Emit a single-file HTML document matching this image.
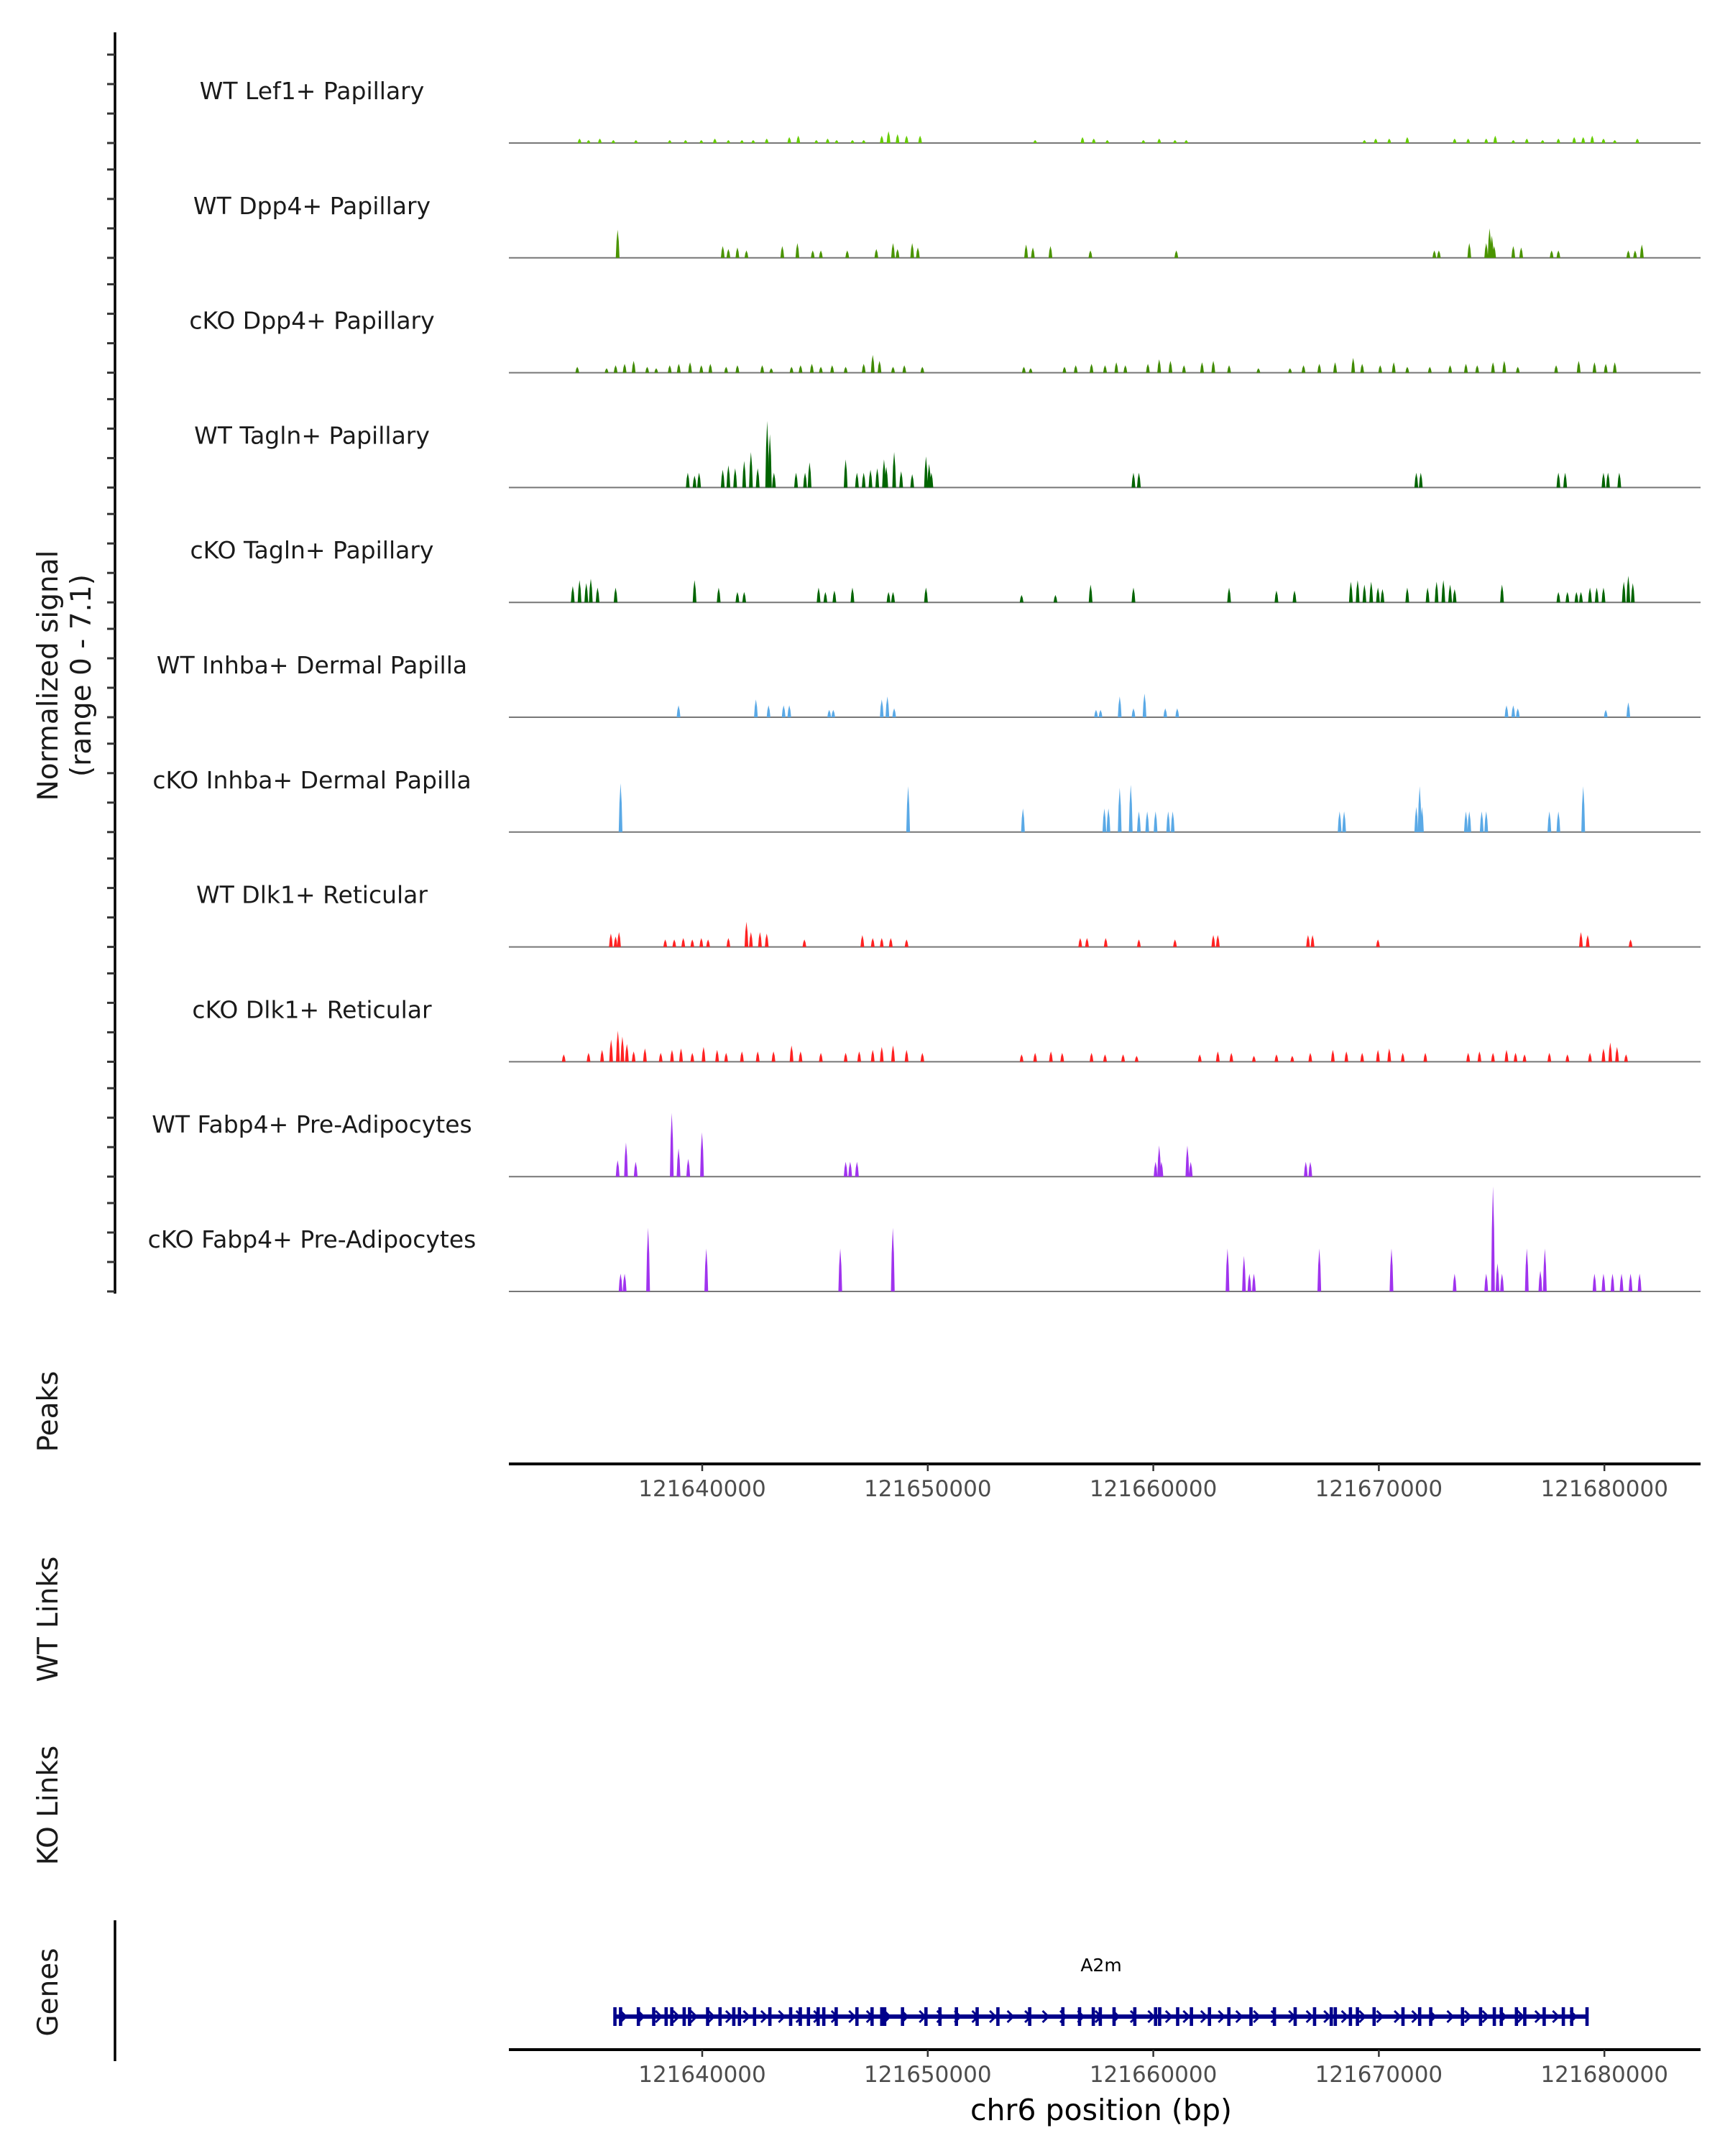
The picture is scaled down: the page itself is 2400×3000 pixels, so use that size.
<!DOCTYPE html>
<html><head><meta charset="utf-8">
<style>
html,body{margin:0;padding:0;background:#fff;}
svg{display:block;font-family:"DejaVu Sans","Liberation Sans",sans-serif;}
</style></head>
<body>
<svg id="chart" width="2400" height="3000" viewBox="0 0 2400 3000" xmlns="http://www.w3.org/2000/svg">
</svg>
<script>
const regionStart = 121628960; // positions below are kb offsets from regionStart
const trackNames = ["WT Lef1+ Papillary","WT Dpp4+ Papillary","cKO Dpp4+ Papillary","WT Tagln+ Papillary","cKO Tagln+ Papillary","WT Inhba+ Dermal Papilla","cKO Inhba+ Dermal Papilla","WT Dlk1+ Reticular","cKO Dlk1+ Reticular","WT Fabp4+ Pre-Adipocytes","cKO Fabp4+ Pre-Adipocytes"];
const trackColors = ["#66cc00","#4a9400","#3f8a00","#006400","#006400","#5aa9e6","#5aa9e6","#ff2222","#ff2222","#a033ee","#a033ee"];
const xTicks = [121640000,121650000,121660000,121670000,121680000];
const xTickLabels = ["121640000","121650000","121660000","121670000","121680000"];
const geneName = "A2m";
const geneStartKb = 7.17, geneEndKb = 50.27;
const geneExons = [7.17,7.42,8.21,8.89,9.44,9.69,10.24,10.48,11.28,11.83,12.44,12.69,13.36,14.04,14.96,15.39,15.75,16.18,16.43,16.98,17.90,18.57,19.0,19.13,19.92,20.96,21.58,22.31,23.23,24.15,25.56,27.03,27.77,28.38,28.69,29.30,30.22,31.14,31.32,32.12,32.73,33.53,34.39,35.37,36.41,37.33,38.19,38.93,39.11,39.78,40.09,40.83,42.11,42.85,43.34,44.75,45.55,46.16,46.47,47.14,47.51,48.37,49.22,49.59,50.27];

const lef1WT = [[5.6,.3],[6.0,.2],[6.5,.3],[7.1,.2],[8.1,.2],[9.6,.2],[10.3,.2],[11.0,.2],[11.6,.3],[12.2,.2],[12.8,.2],[13.3,.2],[13.9,.3],[14.9,.4],[15.3,.5],[16.1,.2],[16.6,.3],[17.0,.2],[17.7,.2],[18.2,.2],[19.0,.5],[19.3,.8],[19.7,.6],[20.1,.5],[20.7,.5],[25.8,.2],[27.9,.4],[28.4,.3],[29.0,.2],[30.6,.2],[31.3,.3],[32.0,.2],[32.5,.2],[40.4,.2],[40.9,.3],[41.5,.3],[42.3,.4],[44.4,.3],[45.0,.3],[45.8,.3],[46.2,.5],[47.0,.2],[47.6,.3],[48.3,.2],[49.0,.3],[49.7,.4],[50.1,.4],[50.5,.5],[51.0,.3],[51.5,.2],[52.5,.3]];
const dpp4WT = [[7.29,1.9],[11.95,.8],[12.2,.6],[12.6,.7],[13.0,.5],[14.59,.8],[15.26,1.0],[15.94,.5],[16.3,.5],[17.47,.5],[18.76,.6],[19.5,1.0],[19.7,.6],[20.35,1.0],[20.6,.7],[25.4,.9],[25.7,.7],[26.48,.8],[28.25,.5],[32.06,.5],[43.5,.5],[43.7,.5],[45.05,1.0],[45.8,1.0],[45.95,2.0],[46.05,1.5],[46.15,.8],[47.0,.8],[47.35,.7],[48.7,.5],[49.0,.5],[52.1,.5],[52.4,.5],[52.7,.9]];
const dpp4KO = [[5.5,.4],[6.8,.3],[7.2,.5],[7.6,.6],[8.0,.8],[8.6,.4],[9.0,.3],[9.6,.5],[10.0,.6],[10.5,.7],[11.0,.5],[11.4,.6],[12.1,.4],[12.6,.5],[13.7,.5],[14.1,.3],[15.0,.4],[15.4,.5],[15.9,.6],[16.3,.4],[16.8,.5],[17.4,.4],[18.2,.6],[18.6,1.2],[18.9,.8],[19.5,.4],[20.0,.5],[20.8,.4],[25.3,.4],[25.6,.3],[27.1,.4],[27.6,.5],[28.3,.6],[28.9,.5],[29.4,.7],[29.8,.5],[30.8,.6],[31.3,.9],[31.8,.8],[32.4,.5],[33.2,.7],[33.7,.8],[34.4,.5],[35.7,.3],[37.1,.3],[37.7,.5],[38.4,.6],[39.1,.7],[39.9,1.0],[40.3,.6],[41.1,.5],[41.7,.7],[42.3,.4],[43.3,.4],[44.2,.5],[44.9,.6],[45.4,.5],[46.1,.7],[46.6,.8],[47.2,.4],[48.9,.5],[49.9,.8],[50.6,.7],[51.1,.6],[51.5,.7]];
const taglnWT = [[10.4,1.0],[10.7,.8],[10.9,1.0],[11.95,1.2],[12.2,1.5],[12.5,1.3],[12.9,1.8],[13.2,2.4],[13.5,1.3],[13.92,4.5],[14.04,3.6],[14.22,1.0],[15.2,1.0],[15.6,1.0],[15.8,1.7],[17.4,1.9],[17.9,1.0],[18.2,1.0],[18.5,1.2],[18.8,1.3],[19.1,1.9],[19.2,1.4],[19.55,2.4],[19.86,1.1],[20.35,.9],[20.96,2.1],[21.1,1.6],[21.2,1.0],[30.16,1.0],[30.4,1.0],[42.7,1.0],[42.9,1.0],[49.0,1.0],[49.3,1.0],[51.0,1.0],[51.2,1.0],[51.7,1.0]];
const taglnKO = [[5.3,1.1],[5.6,1.5],[5.9,1.3],[6.1,1.6],[6.4,1.0],[7.2,1.0],[10.7,1.5],[11.77,1.0],[12.6,.7],[12.9,.7],[16.2,1.0],[16.5,.7],[16.9,.8],[17.7,1.0],[19.3,.7],[19.5,.7],[20.96,1.0],[25.2,.5],[26.7,.5],[28.26,1.2],[30.16,1.0],[34.4,1.0],[36.5,.8],[37.3,.8],[39.8,1.4],[40.1,1.5],[40.4,1.2],[40.7,1.4],[41.0,1.0],[41.2,.9],[42.3,1.0],[43.2,1.0],[43.6,1.4],[43.9,1.5],[44.2,1.2],[44.4,.9],[46.5,1.2],[49.0,.7],[49.4,.7],[49.8,.7],[50.0,.7],[50.4,1.0],[50.7,1.0],[51.0,1.0],[51.9,1.4],[52.1,1.8],[52.3,1.3]];
const inhbaWT = [[9.99,.8],[13.42,1.2],[13.98,.8],[14.65,.8],[14.9,.8],[16.67,.5],[16.85,.5],[19.0,1.2],[19.25,1.4],[19.55,.6],[28.5,.5],[28.7,.5],[29.55,1.4],[30.16,.6],[30.65,1.6],[31.57,.6],[32.1,.6],[46.7,.8],[47.0,.8],[47.2,.6],[51.1,.5],[52.1,1.0]];
const inhbaKO = [[7.42,3.3],[20.17,3.1],[25.26,1.6],[28.87,1.6],[29.05,1.6],[29.55,3.0],[30.04,3.2],[30.4,1.4],[30.77,1.4],[31.14,1.4],[31.7,1.4],[31.9,1.4],[39.3,1.4],[39.5,1.4],[42.7,1.7],[42.85,3.1],[42.95,1.7],[44.9,1.4],[45.05,1.4],[45.6,1.4],[45.8,1.4],[48.6,1.4],[49.0,1.4],[50.1,3.1]];
const dlk1WT = [[6.99,.9],[7.2,.7],[7.35,1.0],[9.4,.5],[9.8,.5],[10.2,.6],[10.6,.5],[11.0,.6],[11.3,.5],[12.2,.6],[13.0,1.7],[13.2,1.0],[13.6,1.0],[13.9,.9],[15.57,.5],[18.14,.8],[18.6,.6],[19.0,.6],[19.4,.6],[20.1,.5],[27.8,.6],[28.1,.6],[28.93,.6],[30.4,.5],[32.0,.5],[33.7,.8],[33.9,.8],[37.9,.8],[38.1,.8],[41.0,.5],[50.0,1.0],[50.3,.8],[52.2,.5]];
const dlk1KO = [[4.9,.5],[6.0,.6],[6.6,.8],[7.0,1.5],[7.3,2.1],[7.5,1.7],[7.7,1.2],[8.0,.7],[8.5,.9],[9.2,.6],[9.7,.8],[10.1,.9],[10.6,.6],[11.1,1.0],[11.7,.8],[12.1,.6],[12.8,.7],[13.5,.7],[14.2,.7],[15.0,1.1],[15.4,.7],[16.3,.6],[17.4,.6],[18.0,.7],[18.6,.8],[19.0,1.0],[19.5,1.1],[20.1,.8],[20.8,.6],[25.2,.5],[25.8,.6],[26.5,.7],[27.0,.6],[28.3,.6],[28.9,.5],[29.7,.5],[30.3,.4],[33.1,.5],[33.9,.7],[34.5,.6],[35.5,.4],[36.5,.5],[37.2,.4],[38.0,.6],[39.0,.8],[39.6,.7],[40.3,.6],[41.0,.8],[41.5,.9],[42.1,.6],[43.1,.6],[45.0,.6],[45.5,.7],[46.1,.6],[46.7,.8],[47.1,.6],[47.5,.5],[48.6,.6],[49.4,.5],[50.4,.6],[51.0,.9],[51.3,1.3],[51.6,1.0],[52.0,.5]];
const fabp4WT = [[7.29,1.1],[7.66,2.3],[8.09,1.0],[9.69,4.3],[9.99,1.9],[10.42,1.2],[11.03,3.0],[17.4,1.0],[17.6,1.0],[17.9,1.0],[31.14,1.0],[31.3,2.1],[31.4,1.0],[32.55,2.1],[32.7,1.0],[37.8,1.0],[38.0,1.0]];
const fabp4KO = [[7.42,1.2],[7.6,1.2],[8.64,4.3],[11.22,2.9],[17.16,2.9],[19.49,4.3],[34.33,2.9],[35.06,2.4],[35.3,1.2],[35.5,1.2],[38.4,2.9],[41.6,2.9],[44.4,1.2],[45.8,1.2],[46.1,7.1],[46.3,1.9],[46.5,1.2],[47.6,2.9],[48.2,1.4],[48.4,2.9],[50.6,1.2],[51.0,1.2],[51.4,1.2],[51.8,1.2],[52.2,1.2],[52.6,1.2]];
const trackData = [lef1WT,dpp4WT,dpp4KO,taglnWT,taglnKO,inhbaWT,inhbaKO,dlk1WT,dlk1KO,fabp4WT,fabp4KO];

const NS = "http://www.w3.org/2000/svg";
const svg = document.getElementById("chart");
const plotL = 708, plotR = 2366;
const refBp = 121640000, refX = 977, pxPerBp = 31.38 / 1000;
function xScale(bp){ return refX + (bp - refBp) * pxPerBp; }
function kbX(kb){ return xScale(regionStart + kb * 1000); }
const trackTop = 199, trackStep = 159.8, yUnit = 20.6;
function el(tag, attrs, parent){ const e = document.createElementNS(NS, tag); for (const k in attrs) e.setAttribute(k, attrs[k]); (parent || svg).appendChild(e); return e; }
function txt(s, attrs, parent){ const e = el("text", attrs, parent); e.textContent = s; return e; }

const yAxis = el("line", {x1:160, y1:45, x2:160, y2:1800, stroke:"#000", "stroke-width":3.5});


for (let i = 0; i < trackNames.length; i++) {
  const b = trackTop + i * trackStep;
  for (let j = 0; j < 4; j++) {
    const t = el("line", {x1:149, x2:160, y1:b - j*41, y2:b - j*41, stroke:"#333", "stroke-width":3});
    
    
  }
}

trackNames.forEach((name, i) => {
  const b = trackTop + i * trackStep;
  const g = el("g", {});
  
  
  const lab = txt(name, {x:434, y:b - 61, "text-anchor":"middle", "font-size":33, fill:"#1a1a1a"}, g);
  
  
  const base = el("line", {x1:plotL, x2:plotR, y1:b, y2:b, stroke:"#777", "stroke-width":2}, g);
  
  
  trackData[i].forEach(([kb, v]) => {
    const x = kbX(kb), h = v * yUnit, w = 2.6;
    const p = el("path", {d:`M${x-w},${b}L${x-w*0.6},${b-h*0.6}L${x},${b-h}L${x+w*0.6},${b-h*0.6}L${x+w},${b}Z`, fill:trackColors[i]}, g);
    
    
  });
});

function xAxis(y, name){
  const g = el("g", {});
  
  
  el("line", {x1:plotL, x2:plotR, y1:y, y2:y, stroke:"#000", "stroke-width":4}, g);
  xTicks.forEach((t, k) => {
    const x = xScale(t);
    el("line", {x1:x, x2:x, y1:y, y2:y+10, stroke:"#333", "stroke-width":2.5}, g);
    const l = txt(xTickLabels[k], {x:x, y:y+45, "text-anchor":"middle", "font-size":31, fill:"#4d4d4d"}, g);
    
    
  });
}
xAxis(2037, 'peaks-x-axis');
xAxis(2852, 'genes-x-axis');

function vTitle(s, x, y, name){
  const t = txt(s, {x:x, y:y, "text-anchor":"middle", "font-size":39, fill:"#1a1a1a", transform:`rotate(-90 ${x} ${y})`});
  
  
}
vTitle("Normalized signal", 80, 940, 'y-axis-title');
vTitle("(range 0 - 7.1)", 126, 940, 'y-axis-range');
vTitle("Peaks", 80, 1964, 'peaks-title');
vTitle("WT Links", 80, 2253, 'wt-links-title');
vTitle("KO Links", 80, 2512, 'ko-links-title');
vTitle("Genes", 80, 2772, 'genes-title');
const gl = el("line", {x1:160, x2:160, y1:2672, y2:2868, stroke:"#000", "stroke-width":3.5});



const gg = el("g", {});


const gy = 2806;
el("line", {x1:kbX(geneStartKb), x2:kbX(geneEndKb), y1:gy, y2:gy, stroke:"#00008b", "stroke-width":6}, gg);
for (let kb = geneStartKb + 0.4; kb < geneEndKb - 0.2; kb += 0.78) {
  const x = kbX(kb);
  el("path", {d:`M${x-5},${gy-8}L${x+3},${gy}L${x-5},${gy+8}`, stroke:"#00008b", "stroke-width":3, fill:"none"}, gg);
}
geneExons.forEach(kb => {
  const x = kbX(kb);
  const e = el("rect", {x:x-2.3, y:gy-13, width:4.6, height:26, fill:"#00008b"}, gg);
  
  
});
const gn = txt(geneName, {x:1532, y:2743, "text-anchor":"middle", "font-size":25, fill:"#000"}, gg);



const xt = txt("chr6 position (bp)", {x:1532, y:2950, "text-anchor":"middle", "font-size":41, fill:"#000"});


</script>
</body></html>
